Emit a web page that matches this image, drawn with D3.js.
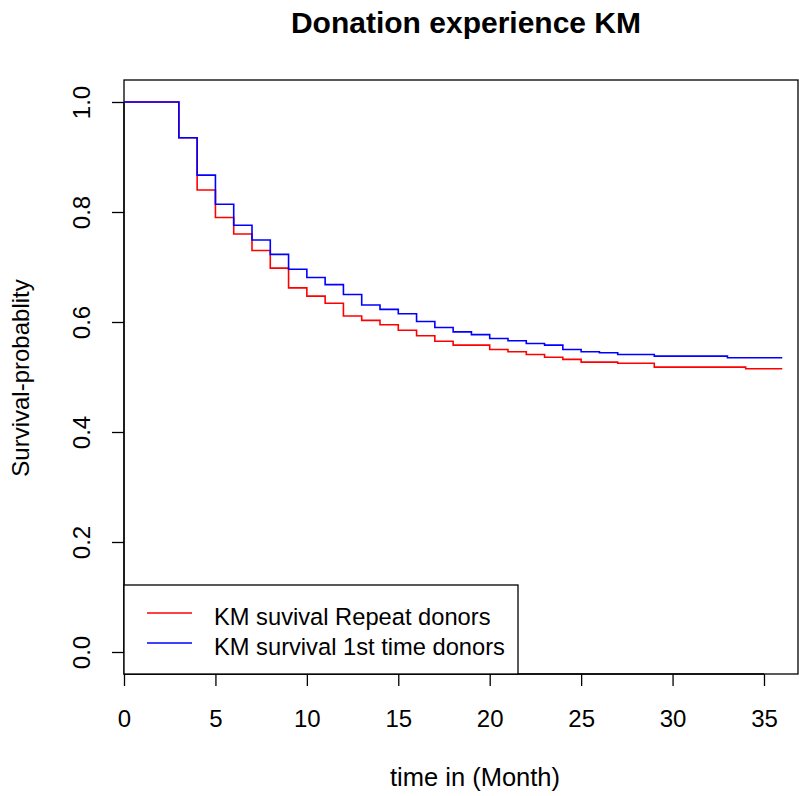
<!DOCTYPE html>
<meta charset="utf-8">
<style>
body{margin:0;background:#fff;}
text{font-family:"Liberation Sans",Arial,sans-serif;fill:#000;}
</style>
<body>
<script src="https://d3js.org/d3.v7.min.js"></script>
<script>

// step change times (months) and survival values after each step
var repeatTimes=[0,3,4,5,6,7,8,9,10,11,12,13,14,15,16,17,18,20,21,22,23,24,25,27,29,34];
var repeatSurv =[1,0.935,0.840,0.790,0.760,0.730,0.698,0.662,0.647,0.634,0.611,0.603,0.595,0.585,0.575,0.565,0.558,0.550,0.546,0.541,0.536,0.532,0.527,0.525,0.518,0.515];
var firstTimes=[0,3,4,5,6,7,8,9,10,11,12,13,14,15,16,17,18,19,20,21,22,23,24,25,26,27,29,33];
var firstSurv =[1,0.935,0.867,0.814,0.776,0.749,0.723,0.696,0.681,0.668,0.650,0.631,0.623,0.615,0.601,0.590,0.582,0.577,0.570,0.566,0.561,0.558,0.550,0.546,0.544,0.541,0.538,0.535];
var endTime=36;
var xTicks=[0,5,10,15,20,25,30,35];
var yTicks=[0,0.2,0.4,0.6,0.8,1.0];
var legendLabels=["KM suvival Repeat donors","KM survival 1st time donors"];
var colors=["#ff0000","#0000ff"];

var W=799,H=796;
var svg=d3.select("body").append("svg").attr("width",W).attr("height",H);

var x=d3.scaleLinear().domain([0,36.86]).range([124,798]);
var y=d3.scaleLinear().domain([-0.04,1.04]).range([674,80]);

// plot box
svg.append("rect").attr("x",x(0)).attr("y",y(1.04))
  .attr("width",x(36.86)-x(0)).attr("height",y(-0.04)-y(1.04))
  .attr("fill","none").attr("stroke","#000").attr("stroke-width",1.3);

// axes
var xAxis=d3.axisBottom(x).tickValues(xTicks).tickSize(12).tickPadding(24).tickFormat(d3.format("d"));
var gx=svg.append("g").attr("transform","translate(0,"+y(-0.04)+")").call(xAxis);
gx.select(".domain").attr("d","M"+x(0)+",0H"+x(35)).attr("stroke-width",1.3);
gx.selectAll(".tick line").attr("stroke-width",1.3);
gx.selectAll(".tick text").attr("font-size",24).attr("font-family","Liberation Sans, Arial, sans-serif").attr("fill","#222");

var yAxis=d3.axisLeft(y).tickValues(yTicks).tickSize(12).tickFormat(d3.format(".1f"));
var gy=svg.append("g").attr("transform","translate("+x(0)+",0)").call(yAxis);
gy.select(".domain").attr("d","M0,"+y(0)+"V"+y(1)).attr("stroke-width",1.3);
gy.selectAll(".tick line").attr("stroke-width",1.3);
gy.selectAll(".tick text")
  .attr("font-size",24).attr("font-family","Liberation Sans, Arial, sans-serif").attr("fill","#222")
  .attr("x",0).attr("dy",0).attr("text-anchor","middle")
  .attr("transform","translate(-34,0) rotate(-90)");

// KM step curves
function stepData(ts,vs){
  var pts=ts.map(function(t,i){return [t,vs[i]];});
  pts.push([endTime,vs[vs.length-1]]);
  return pts;
}
var line=d3.line().x(d=>x(d[0])).y(d=>y(d[1])).curve(d3.curveStepAfter);
svg.append("path").datum(stepData(repeatTimes,repeatSurv))
  .attr("d",line).attr("fill","none").attr("stroke",colors[0]).attr("stroke-width",1.6);
svg.append("path").datum(stepData(firstTimes,firstSurv))
  .attr("d",line).attr("fill","none").attr("stroke",colors[1]).attr("stroke-width",1.6);

// legend
var lg=svg.append("g");
lg.append("rect").attr("x",x(0)).attr("y",585).attr("width",518-x(0)).attr("height",y(-0.04)-585)
  .attr("fill","#fff").attr("stroke","#000").attr("stroke-width",1.3);
legendLabels.forEach(function(lab,i){
  var yy=613+i*30;
  lg.append("line").attr("x1",147).attr("x2",192).attr("y1",yy).attr("y2",yy)
    .attr("stroke",colors[i]).attr("stroke-width",1.6);
  lg.append("text").attr("x",214).attr("y",yy+12).attr("font-size",23.7).attr("fill","#222").text(lab);
});

// titles
svg.append("text").attr("x",466).attr("y",33).attr("text-anchor","middle")
  .attr("font-size",30).attr("font-weight","bold").text("Donation experience KM");
svg.append("text").attr("x",475).attr("y",786).attr("text-anchor","middle")
  .attr("font-size",25.5).attr("fill","#222").text("time in (Month)");
svg.append("text").attr("transform","translate(29,378) rotate(-90)").attr("text-anchor","middle")
  .attr("font-size",24).attr("fill","#222").text("Survival-probablity");

</script>
</body>
